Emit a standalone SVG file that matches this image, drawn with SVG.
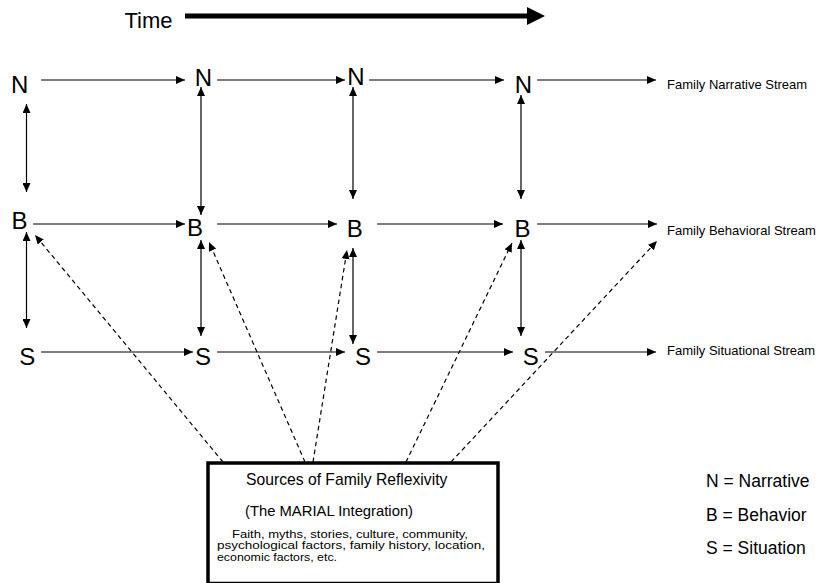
<svg xmlns="http://www.w3.org/2000/svg" width="820" height="583" viewBox="0 0 820 583">
<style>
text{font-family:"Liberation Sans",Arial,sans-serif;fill:#000}
.big{font-size:24px;text-anchor:middle}
.lbl{font-size:13px}
.leg{font-size:17.5px}
.par{font-size:10.2px}
.ln{stroke:#000;stroke-width:1.2;fill:none}
.dl{stroke:#000;stroke-width:1.2;fill:none;stroke-dasharray:4.5 3.5}
</style>
<defs>
<marker id="ah" viewBox="0 0 9 8" refX="9" refY="4" markerWidth="9" markerHeight="8" markerUnits="userSpaceOnUse" orient="auto-start-reverse">
<path d="M0,0 L9,4 L0,8 z" fill="#000"/>
</marker>
</defs>
<rect width="820" height="583" fill="#fff"/>
<g id="time">
<text x="124.5" y="28" style="font-size:22px">Time</text>
<line x1="185" y1="16" x2="529" y2="16" stroke="#000" stroke-width="5"/>
<polygon points="527,7 545,16 527,25" fill="#000"/>
</g>
<g id="connectors">
<line class="ln" x1="41" y1="80" x2="185" y2="80" marker-end="url(#ah)"/>
<line class="ln" x1="217" y1="80" x2="345" y2="80" marker-end="url(#ah)"/>
<line class="ln" x1="369" y1="80" x2="504" y2="80" marker-end="url(#ah)"/>
<line class="ln" x1="537" y1="80" x2="656" y2="80" marker-end="url(#ah)"/>
<line class="ln" x1="33" y1="224" x2="185" y2="224" marker-end="url(#ah)"/>
<line class="ln" x1="217" y1="224" x2="337" y2="224" marker-end="url(#ah)"/>
<line class="ln" x1="377" y1="224" x2="503" y2="224" marker-end="url(#ah)"/>
<line class="ln" x1="537" y1="224" x2="657" y2="224" marker-end="url(#ah)"/>
<line class="ln" x1="41" y1="352" x2="193" y2="352" marker-end="url(#ah)"/>
<line class="ln" x1="217" y1="352" x2="345" y2="352" marker-end="url(#ah)"/>
<line class="ln" x1="377" y1="352" x2="513" y2="352" marker-end="url(#ah)"/>
<line class="ln" x1="545" y1="352" x2="656" y2="352" marker-end="url(#ah)"/>
<line class="ln" x1="26.5" y1="104" x2="26.5" y2="192" marker-start="url(#ah)" marker-end="url(#ah)"/>
<line class="ln" x1="26.5" y1="232" x2="26.5" y2="328" marker-start="url(#ah)" marker-end="url(#ah)"/>
<line class="ln" x1="201" y1="87" x2="201" y2="215" marker-start="url(#ah)" marker-end="url(#ah)"/>
<line class="ln" x1="201" y1="240" x2="201" y2="336" marker-start="url(#ah)" marker-end="url(#ah)"/>
<line class="ln" x1="353" y1="87" x2="353" y2="199" marker-start="url(#ah)" marker-end="url(#ah)"/>
<line class="ln" x1="353" y1="248" x2="353" y2="344" marker-start="url(#ah)" marker-end="url(#ah)"/>
<line class="ln" x1="521" y1="95" x2="521" y2="199" marker-start="url(#ah)" marker-end="url(#ah)"/>
<line class="ln" x1="521" y1="240" x2="521" y2="336" marker-start="url(#ah)" marker-end="url(#ah)"/>
<line class="dl" x1="223" y1="462" x2="35" y2="235" marker-end="url(#ah)"/>
<line class="dl" x1="305" y1="462" x2="209" y2="242" marker-end="url(#ah)"/>
<line class="dl" x1="313" y1="462" x2="347" y2="250" marker-end="url(#ah)"/>
<line class="dl" x1="406" y1="462" x2="512" y2="243" marker-end="url(#ah)"/>
<line class="dl" x1="451" y1="462" x2="657" y2="241" marker-end="url(#ah)"/>
</g>
<g id="N1"><text class="big" x="19.7" y="93.3">N</text></g>
<g id="N2"><text class="big" x="203.3" y="86">N</text></g>
<g id="N3"><text class="big" x="355.8" y="85">N</text></g>
<g id="N4"><text class="big" x="523.3" y="93.3">N</text></g>
<g id="B1"><text class="big" x="19.5" y="229.3">B</text></g>
<g id="B2"><text class="big" x="195" y="236">B</text></g>
<g id="B3"><text class="big" x="354.7" y="237">B</text></g>
<g id="B4"><text class="big" x="522.5" y="237">B</text></g>
<g id="S1"><text class="big" x="27.3" y="364.5">S</text></g>
<g id="S2"><text class="big" x="203" y="364.5">S</text></g>
<g id="S3"><text class="big" x="363" y="364.5">S</text></g>
<g id="S4"><text class="big" x="530.8" y="364.5">S</text></g>
<g id="stream-labels">
<text class="lbl" x="667" y="89">Family Narrative Stream</text>
<text class="lbl" x="667" y="235">Family Behavioral Stream</text>
<text class="lbl" x="667" y="355">Family Situational Stream</text>
</g>
<g id="sources">
<rect x="208" y="463" width="290" height="120.5" fill="#fff" stroke="#000" stroke-width="3.5"/>
<text x="246" y="485" style="font-size:15.7px">Sources of Family Reflexivity</text>
<text x="245" y="516" style="font-size:14.8px">(The MARIAL Integration)</text>
<text class="par" x="232" y="537.5" textLength="236" lengthAdjust="spacingAndGlyphs">Faith, myths, stories, culture, community,</text>
<text class="par" x="217" y="549" textLength="268" lengthAdjust="spacingAndGlyphs">psychological factors, family history, location,</text>
<text class="par" x="217" y="560.5" textLength="120" lengthAdjust="spacingAndGlyphs">economic factors, etc.</text>
</g>
<g id="legend">
<text class="leg" x="706" y="487">N = Narrative</text>
<text class="leg" x="706" y="521">B = Behavior</text>
<text class="leg" x="706" y="554">S = Situation</text>
</g>
</svg>
